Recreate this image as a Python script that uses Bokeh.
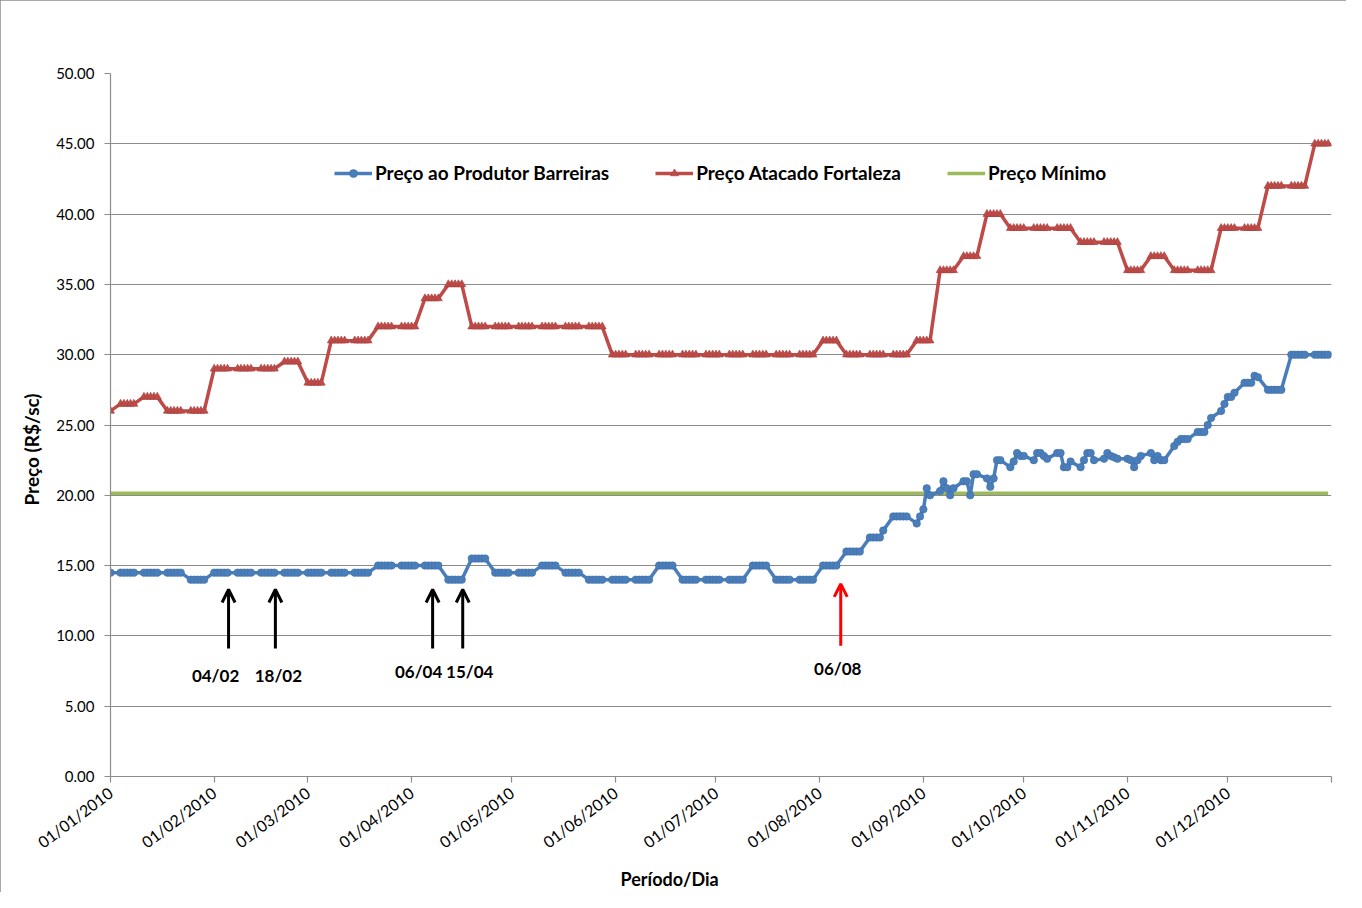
import numpy as np
import pandas as pd
from math import radians
from bokeh.plotting import figure
from bokeh.models import (Range1d, FixedTicker, DatetimeTickFormatter, NumeralTickFormatter,
                          Legend, LegendItem, Arrow, OpenHead, ColumnDataSource, Title)
from bokeh.core.properties import value
from bokeh.embed import file_html
from bokeh.resources import INLINE

# ---------------- data ----------------
# Preço Atacado Fortaleza: date from which each price holds
red_dates = ["2010-01-01", "2010-01-04", "2010-01-11", "2010-01-18", "2010-02-01", "2010-02-22",
             "2010-03-01", "2010-03-08", "2010-03-22", "2010-04-05", "2010-04-12", "2010-04-19",
             "2010-05-31", "2010-08-02", "2010-08-09", "2010-08-30", "2010-09-06", "2010-09-13",
             "2010-09-20", "2010-09-27", "2010-10-18", "2010-11-01", "2010-11-08", "2010-11-15",
             "2010-11-29", "2010-12-13", "2010-12-27"]
red_vals = [26.0, 26.5, 27.0, 26.0, 29.0, 29.5,
            28.0, 31.0, 32.0, 34.0, 35.0, 32.0,
            30.0, 31.0, 30.0, 31.0, 36.0, 37.0,
            40.0, 39.0, 38.0, 36.0, 37.0, 36.0,
            39.0, 42.0, 45.0]

# Preço ao Produtor Barreiras: date from which each price holds
blue_dates = ["2010-01-01", "2010-01-25", "2010-02-01", "2010-03-22", "2010-04-12", "2010-04-19",
              "2010-04-26", "2010-05-10", "2010-05-17", "2010-05-24", "2010-06-14", "2010-06-21",
              "2010-07-12", "2010-07-19", "2010-08-02", "2010-08-09", "2010-08-16", "2010-08-20",
              "2010-08-23", "2010-08-30", "2010-08-31", "2010-09-01", "2010-09-02", "2010-09-03",
              "2010-09-06", "2010-09-07", "2010-09-08", "2010-09-09", "2010-09-10", "2010-09-13",
              "2010-09-15", "2010-09-16", "2010-09-20", "2010-09-21", "2010-09-22", "2010-09-23",
              "2010-09-27", "2010-09-28", "2010-09-29", "2010-09-30", "2010-10-04", "2010-10-05",
              "2010-10-07", "2010-10-08", "2010-10-11", "2010-10-13", "2010-10-15", "2010-10-18",
              "2010-10-19", "2010-10-20", "2010-10-22", "2010-10-25", "2010-10-26", "2010-10-27",
              "2010-10-28", "2010-10-29", "2010-11-02", "2010-11-03", "2010-11-04", "2010-11-05",
              "2010-11-08", "2010-11-09", "2010-11-10", "2010-11-11", "2010-11-15", "2010-11-16",
              "2010-11-17", "2010-11-22", "2010-11-25", "2010-11-26", "2010-11-29", "2010-11-30",
              "2010-12-01", "2010-12-03", "2010-12-06", "2010-12-09", "2010-12-10", "2010-12-13",
              "2010-12-20"]
blue_vals = [14.5, 14.0, 14.5, 15.0, 14.0, 15.5,
             14.5, 15.0, 14.5, 14.0, 15.0, 14.0,
             15.0, 14.0, 15.0, 16.0, 17.0, 17.5,
             18.5, 18.0, 18.5, 19.0, 20.5, 20.0,
             20.3, 21.0, 20.5, 20.0, 20.5, 21.0,
             20.0, 21.5, 21.2, 20.6, 21.2, 22.5,
             22.0, 22.4, 23.0, 22.8, 22.5, 23.0,
             22.8, 22.6, 23.0, 22.0, 22.4, 22.0,
             22.5, 23.0, 22.5, 22.6, 23.0, 22.8,
             22.7, 22.6, 22.5, 22.0, 22.5, 22.8,
             23.0, 22.5, 22.8, 22.5, 23.5, 23.8,
             24.0, 24.5, 25.0, 25.5, 26.0, 26.5,
             27.0, 27.3, 28.0, 28.5, 28.4, 27.5,
             30.0]

preco_minimo = 20.15

annot_labels = ["04/02", "18/02", "06/04", "15/04", "06/08"]
annot_dates = ["2010-02-04", "2010-02-18", "2010-04-06", "2010-04-15", "2010-08-06"]

month_ticks = pd.date_range("2010-01-01", "2011-01-01", freq="MS")
y_ticks = [0, 5, 10, 15, 20, 25, 30, 35, 40, 45, 50]

# ---------------- expand to business days ----------------
bdays = pd.bdate_range("2010-01-01", "2010-12-31")


def hold(dates, vals):
    d = pd.to_datetime(dates).values
    idx = np.searchsorted(d, bdays.values, side="right") - 1
    return np.asarray(vals)[idx]


blue = hold(blue_dates, blue_vals)
red = hold(red_dates, red_vals)
green = np.full(len(bdays), preco_minimo)

BLUE = "#4A7EBB"
RED = "#BE4B48"
GREEN = "#9BBB59"
GRID = "#8c8c8c"
FONT = "Lato"

p = figure(width=1346, height=892, x_axis_type="datetime",
           x_range=Range1d(pd.Timestamp("2010-01-01"), pd.Timestamp("2011-01-01")),
           y_range=Range1d(0, 50),
           output_backend="svg", toolbar_location=None,
           min_border_left=110, min_border_right=15, min_border_top=73, min_border_bottom=116)
p.outline_line_color = None
p.background_fill_color = "white"
p.border_fill_color = "white"
p.styles = {"outline": "1px solid #8c8c8c", "outline-offset": "-1px"}

g = p.line(bdays, green, line_color=GREEN, line_width=3.5)
bl = p.line(bdays, blue, line_color=BLUE, line_width=3.5)
bs = p.scatter(bdays, blue, marker="circle", size=7.5, fill_color=BLUE, line_color="#3f6fa8", line_width=0.6)
rl = p.line(bdays, red, line_color=RED, line_width=3.5)
rs = p.scatter(bdays, red, marker="triangle", size=8, fill_color=RED, line_color="#a8403d", line_width=0.6)

# axes
tick_ms = [int(t.value // 10**6) for t in month_ticks]
p.xaxis.ticker = FixedTicker(ticks=tick_ms)
fmt = "%d/%m/%Y"
p.xaxis.formatter = DatetimeTickFormatter(milliseconds=fmt, seconds=fmt, minsec=fmt, minutes=fmt,
                                          hourmin=fmt, hours=fmt, days=fmt, months=fmt, years=fmt)
p.xaxis.major_label_overrides = {tick_ms[-1]: ""}
p.xaxis.major_label_orientation = radians(37)
p.yaxis.ticker = FixedTicker(ticks=y_ticks)
p.yaxis.formatter = NumeralTickFormatter(format="0.00")
for ax in (p.xaxis, p.yaxis):
    ax.axis_line_color = GRID
    ax.axis_line_width = 1.2
    ax.major_tick_line_color = GRID
    ax.major_tick_line_width = 1.2
    ax.major_tick_in = 0
    ax.major_tick_out = 6
    ax.minor_tick_line_color = None
    ax.major_label_text_font = FONT
    ax.major_label_text_color = "black"
p.xaxis.major_label_text_font_size = "16px"
p.yaxis.major_label_text_font_size = "15px"
p.yaxis.major_label_standoff = 10
p.xaxis.major_label_standoff = 8

p.xgrid.grid_line_color = None
p.ygrid.grid_line_color = GRID
p.ygrid.grid_line_width = 1.2

# axis titles, placed slightly off-centre as in the reference
p.add_layout(Title(text="Período/Dia", align="left", offset=510, standoff=6,
                   text_font=FONT, text_font_size="18px", text_font_style="bold",
                   text_color="black"), "below")
p.add_layout(Title(text="Preço (R$/sc)", align="left", offset=271, standoff=22,
                   text_font=FONT, text_font_size="19px", text_font_style="bold",
                   text_color="black"), "left")

# annotations
ann_x = pd.to_datetime(annot_dates) + pd.Timedelta(hours=31)
arrow_colors = ["black", "black", "black", "black", "#FF0000"]
arrow_y0 = [9.1, 9.1, 9.1, 9.1, 9.3]
arrow_y1 = [13.3, 13.3, 13.3, 13.3, 13.7]
for x, c, y0, y1 in zip(ann_x, arrow_colors, arrow_y0, arrow_y1):
    p.add_layout(Arrow(end=OpenHead(size=13, line_width=3, line_color=c),
                       x_start=x, y_start=y0, x_end=x, y_end=y1,
                       line_width=3, line_color=c))

label_offsets = [-13, 3, -14, 7, -3]
label_y = [7.18, 7.18, 7.47, 7.47, 7.68]
lsrc = ColumnDataSource(dict(x=list(ann_x), y=label_y, t=annot_labels, xo=label_offsets))
p.text(x="x", y="y", text="t", x_offset="xo", source=lsrc, text_align="center",
       text_baseline="middle", text_font=value(FONT), text_font_size="17px",
       text_font_style="bold", text_color="black")

legend = Legend(items=[LegendItem(label="Preço ao Produtor Barreiras", renderers=[bl, bs]),
                       LegendItem(label="Preço Atacado Fortaleza", renderers=[rl, rs]),
                       LegendItem(label="Preço Mínimo", renderers=[g])],
                orientation="horizontal", location=(224, 592))
legend.glyph_width = 38
legend.glyph_height = 20
legend.label_standoff = 3
legend.spacing = 46
legend.padding = 4
legend.margin = 0
legend.border_line_color = None
legend.background_fill_alpha = 0
legend.label_text_font = FONT
legend.label_text_font_size = "19px"
legend.label_text_font_style = "bold"
legend.label_text_color = "black"
p.add_layout(legend)

open("out.html", "w").write(file_html(p, INLINE))
